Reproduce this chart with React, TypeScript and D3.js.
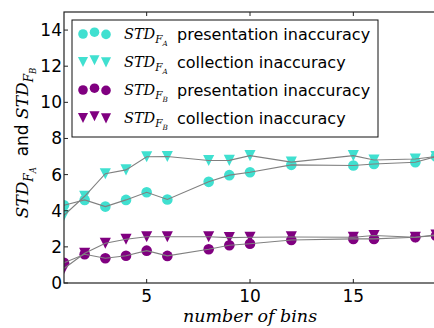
import * as d3 from 'd3';

// number of bins on the x axis
const bins = [1, 2, 3, 4, 5, 6, 8, 9, 10, 12, 15, 16, 18, 19];

const faPresentation = [4.3, 4.6, 4.23, 4.6, 5.02, 4.62, 5.6, 5.97, 6.13, 6.54, 6.5, 6.59, 6.68, 7.0];
const faCollection = [3.75, 4.8, 6.05, 6.26, 6.99, 7.0, 6.78, 6.79, 7.05, 6.69, 7.05, 6.81, 6.86, 7.0];
const fbPresentation = [1.12, 1.59, 1.37, 1.51, 1.79, 1.5, 1.87, 2.09, 2.17, 2.38, 2.44, 2.44, 2.53, 2.62];
const fbCollection = [0.8, 1.65, 2.2, 2.42, 2.56, 2.56, 2.56, 2.51, 2.53, 2.55, 2.53, 2.63, 2.53, 2.66];

const xTicks = [5, 10, 15];
const yTicks = [0, 2, 4, 6, 8, 10, 12, 14];

const CYAN = '#40e0d0';
const PURPLE = '#800080';

const W = 434;
const H = 328;
const M = { left: 64, top: 12, right: 436, bottom: 283 };

const SANS = "'DejaVu Sans', sans-serif";
const SERIF = "'DejaVu Serif', serif";

type Series = { values: number[]; color: string; shape: 'circle' | 'tri'; sub: string; label: string };

const series: Series[] = [
  { values: faPresentation, color: CYAN, shape: 'circle', sub: 'A', label: 'presentation inaccuracy' },
  { values: faCollection, color: CYAN, shape: 'tri', sub: 'A', label: 'collection inaccuracy' },
  { values: fbPresentation, color: PURPLE, shape: 'circle', sub: 'B', label: 'presentation inaccuracy' },
  { values: fbCollection, color: PURPLE, shape: 'tri', sub: 'B', label: 'collection inaccuracy' },
];

function Marker({ x, y, shape, color, r = 5.3 }: { x: number; y: number; shape: string; color: string; r?: number }) {
  if (shape === 'circle') return <circle cx={x} cy={y} r={r} fill={color} />;
  const h = r * 1.05;
  return <path d={`M${x - h},${y - h}L${x + h},${y - h}L${x},${y + h}Z`} fill={color} />;
}

function StdLabel({ x, y, sub, size }: { x: number; y: number; sub: string; size: number }) {
  return (
    <text x={x} y={y} fontFamily={SERIF} fontStyle="italic" fontSize={size}>
      STD
      <tspan fontSize={size * 0.72} dy={size * 0.28}>F</tspan>
      <tspan fontSize={size * 0.5} dy={size * 0.18}>{sub}</tspan>
    </text>
  );
}

export default function App() {
  const x = d3.scaleLinear().domain([1, 19]).range([M.left, M.right]);
  const y = d3.scaleLinear().domain([0, 15]).range([M.bottom, M.top]);
  const line = d3.line<number>().x((_, i) => x(bins[i])).y((d) => y(d));

  return (
    <svg width={W} height={H} style={{ position: 'absolute', left: 0, top: 0, background: '#fff' }}>
      <defs>
        <clipPath id="plot">
          <rect x={M.left} y={M.top} width={M.right - M.left} height={M.bottom - M.top} />
        </clipPath>
      </defs>

      <g clipPath="url(#plot)">
        {series.map((s, si) =>
          s.values.map((v, i) => <Marker key={`${si}-${i}`} x={x(bins[i])} y={y(v)} shape={s.shape} color={s.color} />)
        )}
        {series.map((s, si) => (
          <path key={si} d={line(s.values) || ''} fill="none" stroke="#808080" strokeWidth={1.1} />
        ))}
      </g>

      {/* spines */}
      <rect x={M.left} y={M.top} width={M.right - M.left} height={M.bottom - M.top} fill="none" stroke="#222" strokeWidth={1.2} />

      {/* x ticks, inward on bottom and top */}
      {xTicks.map((t) => (
        <g key={t}>
          <line x1={x(t)} x2={x(t)} y1={M.bottom} y2={M.bottom - 4} stroke="#222" />
          <line x1={x(t)} x2={x(t)} y1={M.top} y2={M.top + 4} stroke="#222" />
          <text x={x(t)} y={M.bottom + 19} textAnchor="middle" fontFamily={SANS} fontSize={17}>{t}</text>
        </g>
      ))}
      {yTicks.map((t) => (
        <g key={t}>
          <line x1={M.left} x2={M.left + 4} y1={y(t)} y2={y(t)} stroke="#222" />
          <text x={M.left - 2} y={y(t) + 6} textAnchor="end" fontFamily={SANS} fontSize={17}>{t}</text>
        </g>
      ))}

      {/* axis labels */}
      <text x={250} y={322} textAnchor="middle" fontFamily={SERIF} fontStyle="italic" fontSize={17.5}>
        number of bins
      </text>
      <g transform="translate(28,143) rotate(-90)">
        <text textAnchor="middle" fontSize={17}>
          <tspan fontFamily={SERIF} fontStyle="italic">STD</tspan>
          <tspan fontFamily={SERIF} fontStyle="italic" fontSize={12} dy={5}>F</tspan>
          <tspan fontFamily={SERIF} fontStyle="italic" fontSize={8.5} dy={3}>A</tspan>
          <tspan fontFamily={SANS} dy={-8}>{'\u00a0\u00a0and '}</tspan>
          <tspan fontFamily={SERIF} fontStyle="italic">STD</tspan>
          <tspan fontFamily={SERIF} fontStyle="italic" fontSize={12} dy={5}>F</tspan>
          <tspan fontFamily={SERIF} fontStyle="italic" fontSize={8.5} dy={3}>B</tspan>
        </text>
      </g>

      {/* legend */}
      <rect x={72} y={20} width={306} height={117} fill="#fff" stroke="#111" strokeWidth={1} />
      {series.map((s, i) => {
        const cy = 34 + i * 28;
        return (
          <g key={i}>
            <Marker x={83} y={cy} shape={s.shape} color={s.color} r={4.8} />
            <Marker x={94.5} y={cy - 1.8} shape={s.shape} color={s.color} r={4.8} />
            <Marker x={106} y={cy + 0.4} shape={s.shape} color={s.color} r={4.8} />
            <StdLabel x={124} y={cy + 5} sub={s.sub} size={14.5} />
            <text x={177} y={cy + 5.5} fontFamily={SANS} fontSize={16}>{s.label}</text>
          </g>
        );
      })}
    </svg>
  );
}
